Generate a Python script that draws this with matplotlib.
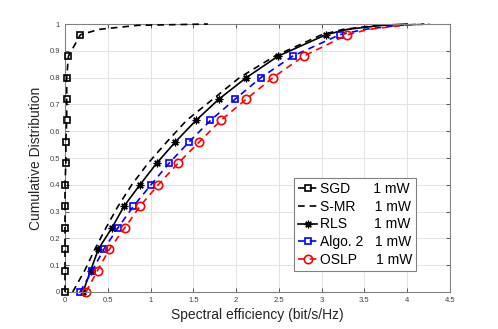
import matplotlib.pyplot as plt

# CDF levels where markers are drawn, plus tail points up to 1
levels = [0, 0.08, 0.16, 0.24, 0.32, 0.40, 0.48, 0.56, 0.64, 0.72, 0.80, 0.88, 0.96, 0.98, 0.995, 1.0]

# spectral efficiency (bit/s/Hz) read at each level
sgd = [0.0, 0.0, 0.0, 0.0, 0.0, 0.0, 0.01, 0.01, 0.02, 0.02, 0.02, 0.04, 0.18, 0.40, 0.85, 1.67]
smr = [0.09, 0.23, 0.35, 0.48, 0.62, 0.78, 0.97, 1.19, 1.42, 1.73, 2.04, 2.45, 3.00, 3.25, 3.65, 3.95]
rls = [0.21, 0.30, 0.39, 0.55, 0.69, 0.876, 1.07, 1.29, 1.53, 1.80, 2.12, 2.49, 3.05, 3.30, 3.70, 4.00]
algo2 = [0.175, 0.32, 0.455, 0.62, 0.80, 1.005, 1.215, 1.45, 1.70, 1.99, 2.29, 2.66, 3.21, 3.50, 3.90, 4.20]
oslp = [0.245, 0.38, 0.52, 0.70, 0.876, 1.09, 1.32, 1.57, 1.82, 2.12, 2.43, 2.79, 3.30, 3.55, 3.95, 4.26]

labels = ['SGD      1 mW', 'S-MR     1 mW', 'RLS       1 mW', 'Algo. 2   1 mW', 'OSLP     1 mW']

plt.rcParams['font.family'] = ['Liberation Sans', 'DejaVu Sans']

fig = plt.figure(figsize=(4.98, 3.29), dpi=100)
ax = fig.add_axes([0.1305, 0.1125, 0.7731, 0.8145])

marks = list(range(13))
dash = (0, (4, 3))
ax.plot(sgd, levels, color='black', linestyle=dash, lw=1.2, marker='s', markersize=5,
        markerfacecolor='none', markeredgewidth=1.2, markevery=marks, label=labels[0],
        clip_on=False, zorder=4)
ax.plot(smr, levels, color='black', linestyle=dash, lw=1.2, label=labels[1])
ax.plot(rls, levels, color='black', linestyle='-', lw=1.2, marker=(8, 2, 0), markersize=5.5,
        markeredgewidth=0.9, markevery=marks, label=labels[2], clip_on=False)
ax.plot(algo2, levels, color='blue', linestyle=dash, lw=1.2, marker='s', markersize=5,
        markerfacecolor='none', markeredgewidth=1.2, markevery=marks, label=labels[3],
        clip_on=False)
ax.plot(oslp, levels, color='red', linestyle=dash, lw=1.2, marker='o', markersize=6,
        markerfacecolor='none', markeredgewidth=1.2, markevery=marks, label=labels[4],
        clip_on=False)

ax.set_xlim(0, 4.5)
ax.set_ylim(0, 1)
ax.set_xticks([0, 0.5, 1, 1.5, 2, 2.5, 3, 3.5, 4, 4.5])
ax.set_xticklabels(['0', '0.5', '1', '1.5', '2', '2.5', '3', '3.5', '4', '4.5'])
ax.set_yticks([i / 10 for i in range(11)])
ax.set_yticklabels(['0'] + ['0.%d' % i for i in range(1, 10)] + ['1'])
ax.tick_params(direction='in', labelsize=5.5, colors='#404040', length=3, width=0.6,
               top=True, right=True, labeltop=False, labelright=False)
ax.grid(True, color='#e3e3e3', lw=0.7)
ax.set_axisbelow(True)
for s in ax.spines.values():
    s.set_color('#808080')
    s.set_linewidth(0.8)

ax.set_xlabel('Spectral efficiency (bit/s/Hz)', fontsize=10, color='#262626', labelpad=3)
ax.set_ylabel('Cumulative Distribution', fontsize=10, color='#262626', labelpad=5)

leg = ax.legend(loc='lower left', bbox_to_anchor=(0.595, 0.078), fontsize=10,
                handlelength=1.35, handletextpad=0.2, borderpad=0.3, labelspacing=0.27,
                borderaxespad=0, fancybox=False, framealpha=1, edgecolor='#808080')
leg.get_frame().set_linewidth(0.8)
leg.set_zorder(10)

fig.savefig('out.png', dpi=100)
